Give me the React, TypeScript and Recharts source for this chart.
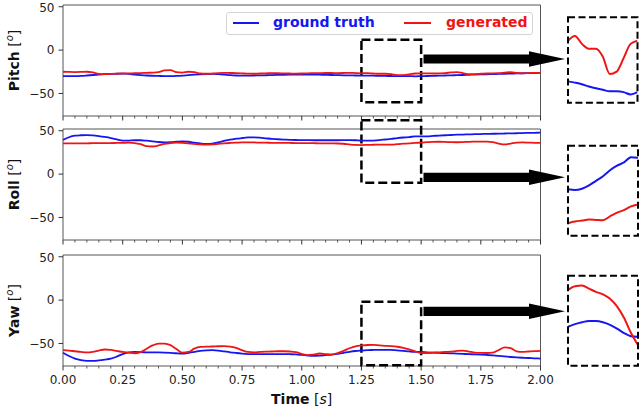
import { LineChart, Line, XAxis, YAxis, ReferenceArea, Legend } from "recharts";

// time axis [s], step 0.025
const TIME = [
  0, 0.025, 0.05, 0.075, 0.1, 0.125, 0.15, 0.175, 0.2, 0.225,
  0.25, 0.275, 0.3, 0.325, 0.35, 0.375, 0.4, 0.425, 0.45, 0.475,
  0.5, 0.525, 0.55, 0.575, 0.6, 0.625, 0.65, 0.675, 0.7, 0.725,
  0.75, 0.775, 0.8, 0.825, 0.85, 0.875, 0.9, 0.925, 0.95, 0.975,
  1.0, 1.025, 1.05, 1.075, 1.1, 1.125, 1.15, 1.175, 1.2, 1.225,
  1.25, 1.275, 1.3, 1.325, 1.35, 1.375, 1.4, 1.425, 1.45, 1.475,
  1.5, 1.525, 1.55, 1.575, 1.6, 1.625, 1.65, 1.675, 1.7, 1.725,
  1.75, 1.775, 1.8, 1.825, 1.85, 1.875, 1.9, 1.925, 1.95, 1.975,
  2.0,
];

const PITCH_TRUTH = [
  -30, -30, -30, -29.8, -29.3, -28.7, -28.2, -27.8, -27.5, -27.3,
  -27.2, -27.5, -28.2, -28.8, -29.3, -29.6, -29.8, -30, -30, -29.8,
  -29.4, -28.8, -28.3, -27.9, -27.6, -27.5, -27.8, -28.3, -28.9, -29.3,
  -29.5, -29.5, -29.3, -29.2, -29, -28.8, -28.6, -28.5, -28.4, -28.3,
  -28.2, -28.2, -28.3, -28.4, -28.5, -28.7, -28.9, -29.1, -29.2, -29.3,
  -29.37, -29.45, -29.55, -29.7, -29.8, -29.9, -30, -30, -30.05, -30.2,
  -30.05, -29.9, -29.7, -29.5, -29.3, -29.1, -28.9, -28.7, -28.5, -28.3,
  -28.1, -27.9, -27.7, -27.5, -27.3, -27.1, -26.9, -26.7, -26.5, -26.4,
  -26.3,
];

const PITCH_GEN = [
  -25, -25.2, -25.3, -25.2, -25, -25.8, -27.5, -27.8, -27.5, -27.2,
  -27, -26.8, -26.7, -26.5, -26.2, -26, -25.5, -23.5, -23.2, -25.5,
  -26, -25, -25.5, -27, -27.3, -27, -26.5, -26.3, -26.4, -26.5,
  -26.8, -27.2, -27.3, -27, -26.8, -26.6, -26.7, -26.9, -27, -27.1,
  -27, -26.8, -26.6, -26.5, -26.4, -26.4, -26.5, -26.4, -26.2, -26.5,
  -26.8, -26.5, -27, -27.3, -27.3, -27.8, -28.9, -28.75, -27.9, -27,
  -26.8, -26.9, -27, -26.8, -26.5, -25.8, -25.3, -26.5, -27.8, -27.6,
  -27.3, -27, -26.8, -26.5, -26, -25.5, -26.3, -26.8, -26.5, -26.3,
  -26.2,
];

const ROLL_TRUTH = [
  39.3, 42.5, 44.3, 44.8, 45, 44.6, 43.8, 42.8, 41.6, 40,
  38.5, 38.6, 39, 39, 38.5, 37.8, 37, 36.6, 36.8, 37.3,
  37.8, 37.3, 36.3, 35.3, 34.7, 35.2, 36.6, 38.3, 39.8, 40.8,
  41.6, 42.3, 42.4, 42, 41.3, 40.6, 40.2, 39.8, 39.5, 39.3,
  39.2, 39.1, 39, 39, 39, 39, 39, 39.1, 39.2, 39,
  38.6, 38.5, 38.7, 39.2, 39.9, 40.6, 41.5, 42.2, 42.7, 43.5,
  43.4, 43.6, 44, 44.4, 44.8, 45.1, 45.4, 45.6, 45.8, 46,
  46.2, 46.4, 46.5, 46.6, 46.8, 47, 47.1, 47.3, 47.5, 47.6,
  47.8,
];

const ROLL_GEN = [
  35.4, 35.4, 35.5, 35.5, 35.5, 35.6, 35.6, 35.7, 35.8, 35.9,
  36, 36.2, 35.8, 34.5, 32.3, 31.8, 33, 34.8, 35.8, 36.2,
  36, 35.5, 34.8, 34.2, 34, 34.2, 34.8, 35.4, 35.9, 36.3,
  36.6, 36.6, 36.5, 36.3, 36.2, 36.1, 36, 36, 35.9, 35.8,
  35.8, 35.7, 35.6, 35.5, 35.5, 35.4, 35.3, 35, 34.2, 33.6,
  33.45, 33.7, 33.85, 34, 33.95, 33.9, 34.5, 35.05, 35.45, 36,
  36.3, 36.8, 37.2, 37.3, 37.1, 36.8, 36.7, 36.9, 37.2, 37.4,
  37.5, 37.4, 36.8, 35.2, 34.2, 35.2, 36.3, 36.5, 36.3, 36.1,
  36,
];

const YAW_TRUTH = [
  -60.8, -64.5, -67.5, -69.3, -70.2, -70.2, -69.6, -68.7, -67.6, -65.2,
  -62.2, -60.2, -59.8, -60, -60.3, -60.4, -60.4, -60.5, -60.8, -61.3,
  -61.6, -60.8, -59.6, -58.5, -57.9, -57.7, -58.2, -59.2, -60.2, -61,
  -61.7, -62.2, -62.4, -62.4, -62.3, -62.2, -62.2, -62.3, -62.4, -62.6,
  -63.2, -63.9, -64.3, -64, -63.4, -62.8, -62, -60.8, -59.6, -58.7,
  -58.2, -57.8, -57.5, -57.3, -57.3, -57.5, -57.9, -58.5, -59.2, -59.7,
  -59.8, -60.3, -60.6, -60.9, -61.1, -61.4, -61.7, -62, -62.3, -62.6,
  -62.9, -63.3, -63.8, -64.4, -65, -65.6, -66.1, -66.5, -66.8, -67.1,
  -67.4,
];

const YAW_GEN = [
  -57.7, -58.2, -59, -59.8, -60.4, -59.8, -58.2, -57, -57.5, -58.6,
  -59.7, -60.5, -61.3, -60, -56.2, -52.3, -50.2, -50.3, -52, -56.5,
  -60.5, -59.8, -56, -54, -53.6, -53.5, -53.2, -53.1, -53.6, -55,
  -57.8, -59.8, -60.2, -59.8, -59.5, -59.3, -59, -59, -59.3, -60,
  -62, -63.5, -62.8, -61.6, -62.2, -62.8, -61, -58.5, -55.5, -53.3,
  -52.4, -51.8, -51.7, -52.2, -52.7, -53.1, -53.8, -55, -56.8, -59.2,
  -61.1, -61, -60.6, -60.2, -59.8, -59.4, -58.6, -58.3, -59.3, -60.5,
  -60.9, -61, -60.6, -57.5, -54.5, -55.5, -59, -59.8, -59.3, -58.8,
  -58.5,
];

const X_TICKS = [
  0, 0.05, 0.1, 0.15, 0.2, 0.25, 0.3, 0.35, 0.4, 0.45,
  0.5, 0.55, 0.6, 0.65, 0.7, 0.75, 0.8, 0.85, 0.9, 0.95,
  1.0, 1.05, 1.1, 1.15, 1.2, 1.25, 1.3, 1.35, 1.4, 1.45,
  1.5, 1.55, 1.6, 1.65, 1.7, 1.75, 1.8, 1.85, 1.9, 1.95, 2.0,
];
const X_MAJOR = [0, 0.25, 0.5, 0.75, 1.0, 1.25, 1.5, 1.75, 2.0];
const Y_TICKS = [-50, 0, 50];

const BLUE = "#1616f2";
const RED = "#f01515";
const FONT = "DejaVu Sans";
const Y_DOMAIN: [number, number] = [-76, 52];

const rows = TIME.map((t, i) => ({
  t,
  pitchTruth: PITCH_TRUTH[i],
  pitchGen: PITCH_GEN[i],
  rollTruth: ROLL_TRUTH[i],
  rollGen: ROLL_GEN[i],
  yawTruth: YAW_TRUTH[i],
  yawGen: YAW_GEN[i],
}));
const zoomRows = rows.filter((r) => r.t >= 1.25 - 1e-9 && r.t <= 1.5 + 1e-9);

const fmtY = (v: number) => (v < 0 ? `\u2212${Math.abs(v)}` : `${v}`);

function TimeTick(props: any) {
  const { x, y, payload, showLabels } = props;
  const v = payload.value;
  const major = X_MAJOR.some((m) => Math.abs(m - v) < 1e-6);
  return (
    <g>
      <line x1={x} x2={x} y1={y} y2={y + (major ? 4.5 : 2.5)} stroke="#333" strokeWidth={major ? 1 : 0.8} />
      {showLabels && major && (
        <text x={x} y={y + 18} textAnchor="middle" fontSize={12} fill="#222" fontFamily={FONT}>
          {v.toFixed(2)}
        </text>
      )}
    </g>
  );
}

function YLabel({ cy, name }: { cy: number; name: string }) {
  return (
    <text
      x={15}
      y={cy}
      transform={`rotate(-90 15 ${cy})`}
      textAnchor="middle"
      dominantBaseline="middle"
      fontFamily={FONT}
      fontSize={14}
      fill="#111"
    >
      <tspan fontWeight="bold">{name}</tspan>
      <tspan> [</tspan>
      <tspan fontStyle="italic" fontSize={10} dy={-5}>o</tspan>
      <tspan dy={5}>]</tspan>
    </text>
  );
}

function TimeLabel({ y }: { y: number }) {
  return (
    <text x={301.6} y={y} textAnchor="middle" fontFamily={FONT} fontSize={14} fill="#111">
      <tspan fontWeight="bold">Time</tspan>
      <tspan> [</tspan>
      <tspan fontStyle="italic">s</tspan>
      <tspan>]</tspan>
    </text>
  );
}

function LegendBox() {
  return (
    <div
      style={{
        position: "relative",
        width: 307,
        height: 23,
        boxSizing: "border-box",
        border: "1px solid #d4d4d4",
        borderRadius: 3,
        background: "rgba(255,255,255,0.9)",
        fontFamily: FONT,
        fontWeight: "bold",
        fontSize: 14,
        lineHeight: "17px",
        whiteSpace: "nowrap",
      }}
    >
      <span style={{ position: "absolute", left: 6, top: 9, width: 26, height: 2, background: BLUE }} />
      <span style={{ position: "absolute", left: 46, top: 1, color: BLUE }}>ground truth</span>
      <span style={{ position: "absolute", left: 177, top: 9, width: 27, height: 2, background: RED }} />
      <span style={{ position: "absolute", left: 219, top: 1, color: RED }}>generated</span>
    </div>
  );
}

type PanelProps = {
  top: number;
  marginTop: number;
  axisHeight: number;
  truthKey: string;
  genKey: string;
  name: string;
  box: [number, number];
  showLabels?: boolean;
  legend?: boolean;
};

function Panel({ top, marginTop, axisHeight, truthKey, genKey, name, box, showLabels, legend }: PanelProps) {
  const plotH = 111;
  const height = marginTop + plotH + axisHeight;
  return (
    <div style={{ position: "absolute", left: 0, top }}>
      <LineChart width={640} height={height} data={rows} margin={{ top: marginTop, right: 99.5, bottom: 0, left: 0 }}>
        <XAxis
          dataKey="t"
          type="number"
          domain={[0, 2]}
          ticks={X_TICKS}
          interval={0}
          height={axisHeight}
          axisLine={false}
          tickLine={false}
          tickSize={0}
          tickMargin={0}
          tick={(p: any) => <TimeTick {...p} showLabels={showLabels} />}
          label={showLabels ? () => <TimeLabel y={marginTop + plotH + 37.5} /> : undefined}
        />
        <YAxis
          domain={Y_DOMAIN}
          ticks={Y_TICKS}
          width={63}
          axisLine={false}
          tickSize={4.5}
          tickMargin={4}
          tickLine={{ stroke: "#333" }}
          tick={{ fontSize: 12, fill: "#222", fontFamily: FONT }}
          tickFormatter={fmtY}
          allowDataOverflow
          label={() => <YLabel cy={marginTop + plotH / 2} name={name} />}
        />
        <ReferenceArea x1={0} x2={2} y1={Y_DOMAIN[0]} y2={Y_DOMAIN[1]} fill="none" stroke="#555" strokeWidth={1} ifOverflow="visible" />
        <Line type="monotone" dataKey={truthKey} stroke={BLUE} strokeWidth={1.8} dot={false} isAnimationActive={false} />
        <Line type="monotone" dataKey={genKey} stroke={RED} strokeWidth={1.8} dot={false} isAnimationActive={false} />
        <ReferenceArea
          x1={1.25}
          x2={1.5}
          y1={box[0]}
          y2={box[1]}
          fill="none"
          stroke="#000"
          strokeWidth={2.5}
          strokeDasharray="9 4"
          ifOverflow="visible"
        />
        {legend && (
          <Legend
            layout="horizontal"
            verticalAlign="middle"
            align="center"
            content={() => <LegendBox />}
            wrapperStyle={{ position: "absolute", top: 12, left: 226, width: 307, height: 23 }}
          />
        )}
      </LineChart>
    </div>
  );
}

type InsetProps = {
  left: number;
  top: number;
  width: number;
  height: number;
  truthKey: string;
  genKey: string;
  domain: [number, number];
};

function Inset({ left, top, width, height, truthKey, genKey, domain }: InsetProps) {
  return (
    <div style={{ position: "absolute", left, top }}>
      <LineChart width={width} height={height} data={zoomRows} margin={{ top: 0, right: 0, bottom: 0, left: 0 }}>
        <XAxis dataKey="t" type="number" domain={[1.25, 1.5]} hide allowDataOverflow />
        <YAxis domain={domain} hide allowDataOverflow />
        <Line type="monotone" dataKey={truthKey} stroke={BLUE} strokeWidth={2} dot={false} isAnimationActive={false} />
        <Line type="monotone" dataKey={genKey} stroke={RED} strokeWidth={2} dot={false} isAnimationActive={false} />
      </LineChart>
    </div>
  );
}

const INSETS = [
  { left: 568, top: 17.3, width: 69.5, height: 85.4, truthKey: "pitchTruth", genKey: "pitchGen", domain: [-30.7, -25.3] as [number, number] },
  { left: 568, top: 145.7, width: 70, height: 90, truthKey: "rollTruth", genKey: "rollGen", domain: [31.5, 45.2] as [number, number] },
  { left: 568, top: 275.7, width: 70, height: 90, truthKey: "yawTruth", genKey: "yawGen", domain: [-64.4, -50.2] as [number, number] },
];

const ARROWS = [59, 177.3, 311.3];

function arrowPoints(cy: number) {
  const s = 4.6;
  const h = 7.8;
  return [
    [423.5, cy - s], [529, cy - s], [529, cy - h], [565, cy],
    [529, cy + h], [529, cy + s], [423.5, cy + s],
  ].map((p) => p.join(",")).join(" ");
}

export default function App() {
  return (
    <div style={{ position: "absolute", left: 0, top: 0, width: 640, height: 408, background: "#fff", overflow: "hidden" }}>
      <Panel top={0} marginTop={5} axisHeight={8} truthKey="pitchTruth" genKey="pitchGen" name="Pitch" box={[-60, 12]} legend />
      <Panel top={117} marginTop={12} axisHeight={8} truthKey="rollTruth" genKey="rollGen" name="Roll" box={[-10, 62]} />
      <Panel top={250} marginTop={5} axisHeight={42} truthKey="yawTruth" genKey="yawGen" name="Yaw" box={[-75, -2]} showLabels />
      {INSETS.map((ins) => (
        <Inset key={ins.truthKey} {...ins} />
      ))}
      <svg width={640} height={408} style={{ position: "absolute", left: 0, top: 0, pointerEvents: "none" }}>
        {ARROWS.map((cy) => (
          <polygon key={cy} points={arrowPoints(cy)} fill="#000" />
        ))}
        {INSETS.map((ins) => (
          <rect
            key={ins.truthKey}
            x={ins.left}
            y={ins.top}
            width={ins.width}
            height={ins.height}
            fill="none"
            stroke="#000"
            strokeWidth={2}
            strokeDasharray="7 3.5"
          />
        ))}
      </svg>
    </div>
  );
}
